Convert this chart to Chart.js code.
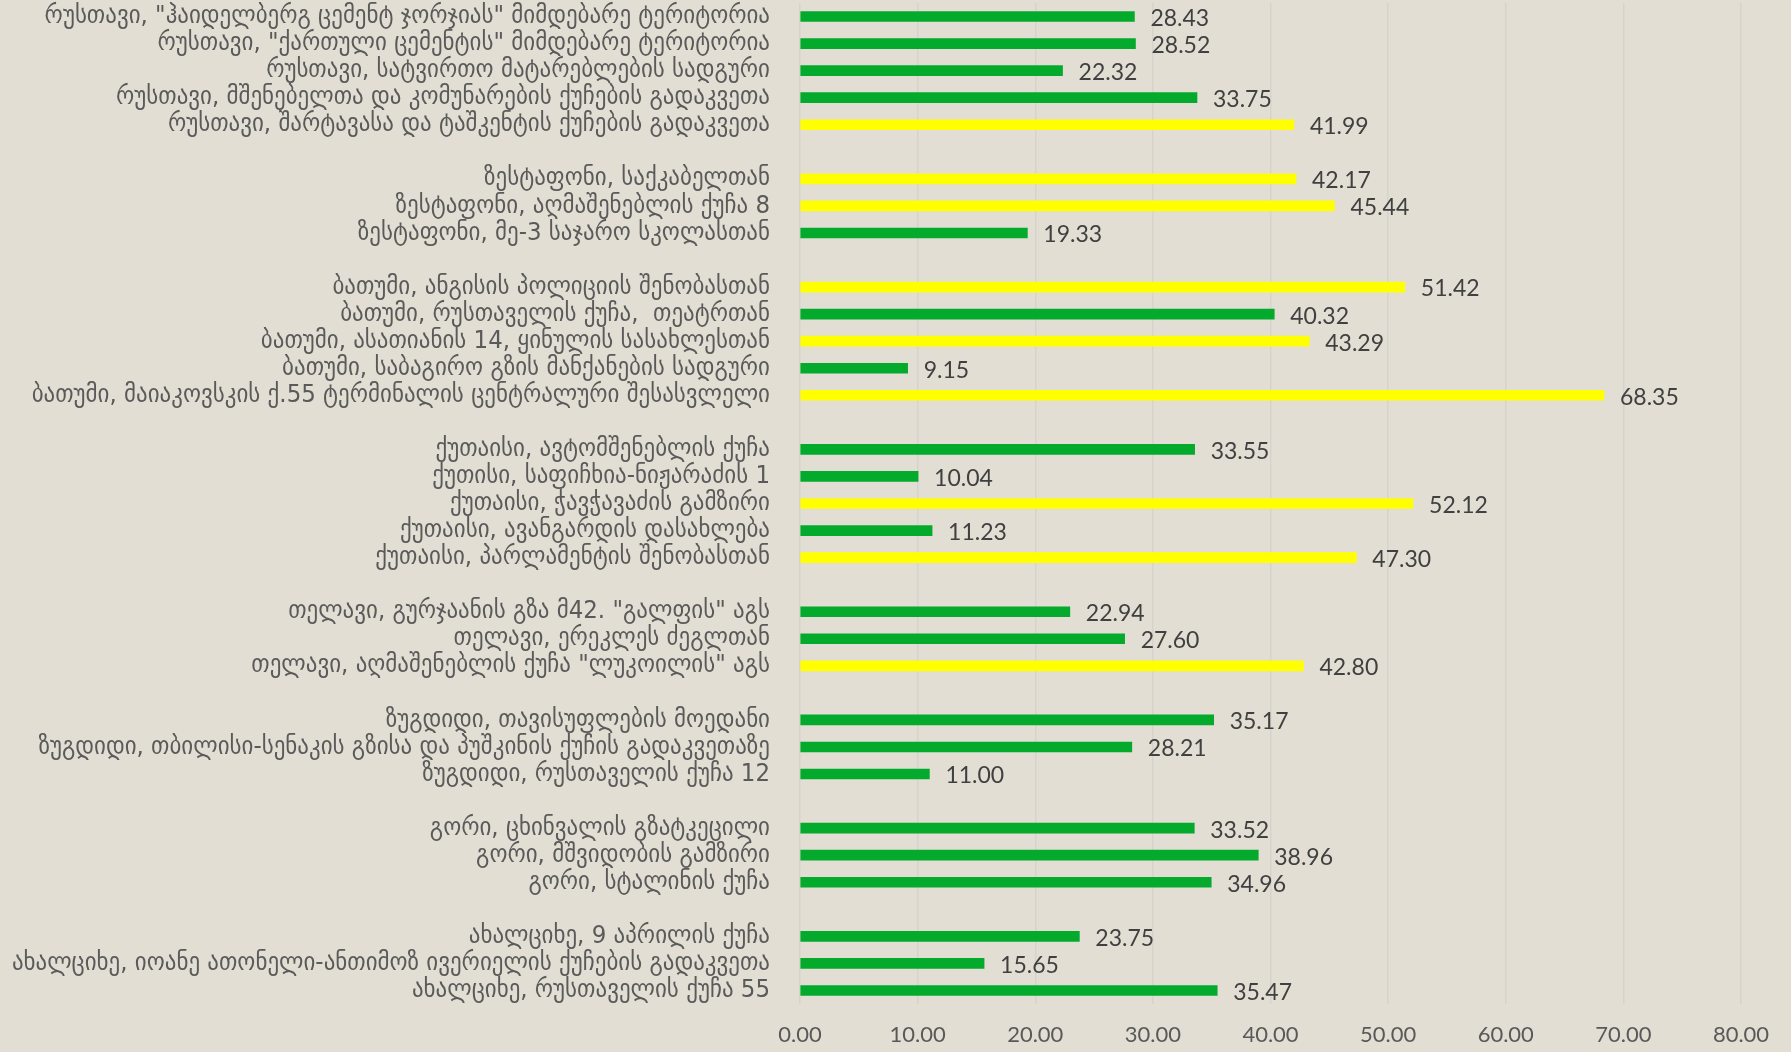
<!DOCTYPE html>
<html>
<head>
<meta charset="utf-8">
<title>PM10 by station</title>
<script src="https://cdn.jsdelivr.net/npm/chart.js"></script>
<style>
html, body {
  margin: 0;
  padding: 0;
  background: #e3ded3;
}
#chartContainer {
  width: 1791px;
  height: 1052px;
}
</style>
</head>
<body>
  <div id="chartContainer">
    <canvas id="myChart"></canvas>
  </div>

  <script>
  // stations, top to bottom; '' rows are the blank gaps between towns
  const stations = [
    'რუსთავი, "ჰაიდელბერგ ცემენტ ჯორჯიას" მიმდებარე ტერიტორია',
    'რუსთავი, "ქართული ცემენტის" მიმდებარე ტერიტორია',
    'რუსთავი, სატვირთო მატარებლების სადგური',
    'რუსთავი, მშენებელთა და კომუნარების ქუჩების გადაკვეთა',
    'რუსთავი, შარტავასა და ტაშკენტის ქუჩების გადაკვეთა',
    '',
    'ზესტაფონი, საქკაბელთან',
    'ზესტაფონი, აღმაშენებლის ქუჩა 8',
    'ზესტაფონი, მე-3 საჯარო სკოლასთან',
    '',
    'ბათუმი, ანგისის პოლიციის შენობასთან',
    'ბათუმი, რუსთაველის ქუჩა,  თეატრთან',
    'ბათუმი, ასათიანის 14, ყინულის სასახლესთან',
    'ბათუმი, საბაგირო გზის მანქანების სადგური',
    'ბათუმი, მაიაკოვსკის ქ.55 ტერმინალის ცენტრალური შესასვლელი',
    '',
    'ქუთაისი, ავტომშენებლის ქუჩა',
    'ქუთისი, საფიჩხია-ნიჟარაძის 1',
    'ქუთაისი, ჭავჭავაძის გამზირი',
    'ქუთაისი, ავანგარდის დასახლება',
    'ქუთაისი, პარლამენტის შენობასთან',
    '',
    'თელავი, გურჯაანის გზა მ42. "გალფის" აგს',
    'თელავი, ერეკლეს ძეგლთან',
    'თელავი, აღმაშენებლის ქუჩა "ლუკოილის" აგს',
    '',
    'ზუგდიდი, თავისუფლების მოედანი',
    'ზუგდიდი, თბილისი-სენაკის გზისა და პუშკინის ქუჩის გადაკვეთაზე',
    'ზუგდიდი, რუსთაველის ქუჩა 12',
    '',
    'გორი, ცხინვალის გზატკეცილი',
    'გორი, მშვიდობის გამზირი',
    'გორი, სტალინის ქუჩა',
    '',
    'ახალციხე, 9 აპრილის ქუჩა',
    'ახალციხე, იოანე ათონელი-ანთიმოზ ივერიელის ქუჩების გადაკვეთა',
    'ახალციხე, რუსთაველის ქუჩა 55'
  ];

  const values = [
    28.43, 28.52, 22.32, 33.75, 41.99, null,
    42.17, 45.44, 19.33, null,
    51.42, 40.32, 43.29, 9.15, 68.35, null,
    33.55, 10.04, 52.12, 11.23, 47.30, null,
    22.94, 27.60, 42.80, null,
    35.17, 28.21, 11.00, null,
    33.52, 38.96, 34.96, null,
    23.75, 15.65, 35.47
  ];

  // g = green, y = yellow (as coloured in the original)
  const levels = [
    'g', 'g', 'g', 'g', 'y', '',
    'y', 'y', 'g', '',
    'y', 'g', 'y', 'g', 'y', '',
    'g', 'g', 'y', 'g', 'y', '',
    'g', 'g', 'y', '',
    'g', 'g', 'g', '',
    'g', 'g', 'g', '',
    'g', 'g', 'g'
  ];

  const xTicks = [0, 10, 20, 30, 40, 50, 60, 70, 80];

  const GREEN = '#04aa2b';
  const YELLOW = '#ffff00';
  const barColors = levels.map(l => l === 'y' ? YELLOW : GREEN);

  // value labels at the end of each bar
  const valueLabels = {
    id: 'valueLabels',
    afterDatasetsDraw(chart) {
      const ctx = chart.ctx;
      const meta = chart.getDatasetMeta(0);
      ctx.save();
      ctx.font = '23px Lato';
      ctx.fillStyle = '#404040';
      ctx.textAlign = 'left';
      ctx.textBaseline = 'middle';
      meta.data.forEach((bar, i) => {
        if (values[i] === null) return;
        ctx.fillText(values[i].toFixed(2), bar.x + 16, bar.y + 2);
      });
      ctx.restore();
    }
  };

  const ctx = document.getElementById('myChart').getContext('2d');
  new Chart(ctx, {
    type: 'bar',
    data: {
      labels: stations,
      datasets: [{
        data: values,
        backgroundColor: barColors,
        barThickness: 10
      }]
    },
    options: {
      indexAxis: 'y',
      responsive: true,
      maintainAspectRatio: false,
      animation: false,
      layout: {
        padding: { top: 3, right: 50, left: 0, bottom: 0 }
      },
      plugins: {
        legend: { display: false },
        tooltip: { enabled: false }
      },
      scales: {
        x: {
          min: 0,
          max: 80,
          afterBuildTicks: scale => {
            scale.ticks = xTicks.map(v => ({ value: v }));
          },
          afterFit: scale => {
            scale.height = 48;
            scale.paddingTop = 0;
            scale.paddingBottom = 0;
          },
          grid: {
            color: '#d6d3ce',
            lineWidth: 1.5,
            drawTicks: false
          },
          border: { display: false },
          ticks: {
            padding: 18,
            color: '#595959',
            font: { family: 'Lato', size: 22 },
            callback: v => v.toFixed(2)
          }
        },
        y: {
          afterFit: scale => {
            scale.width = 800;
            scale.paddingTop = 0;
            scale.paddingBottom = 0;
          },
          grid: { display: false },
          border: { display: false },
          ticks: {
            autoSkip: false,
            padding: 22,
            color: '#5a5a5a',
            font: { family: 'DejaVu Sans Condensed', size: 25.5 }
          }
        }
      }
    },
    plugins: [valueLabels]
  });
  </script>
</body>
</html>
